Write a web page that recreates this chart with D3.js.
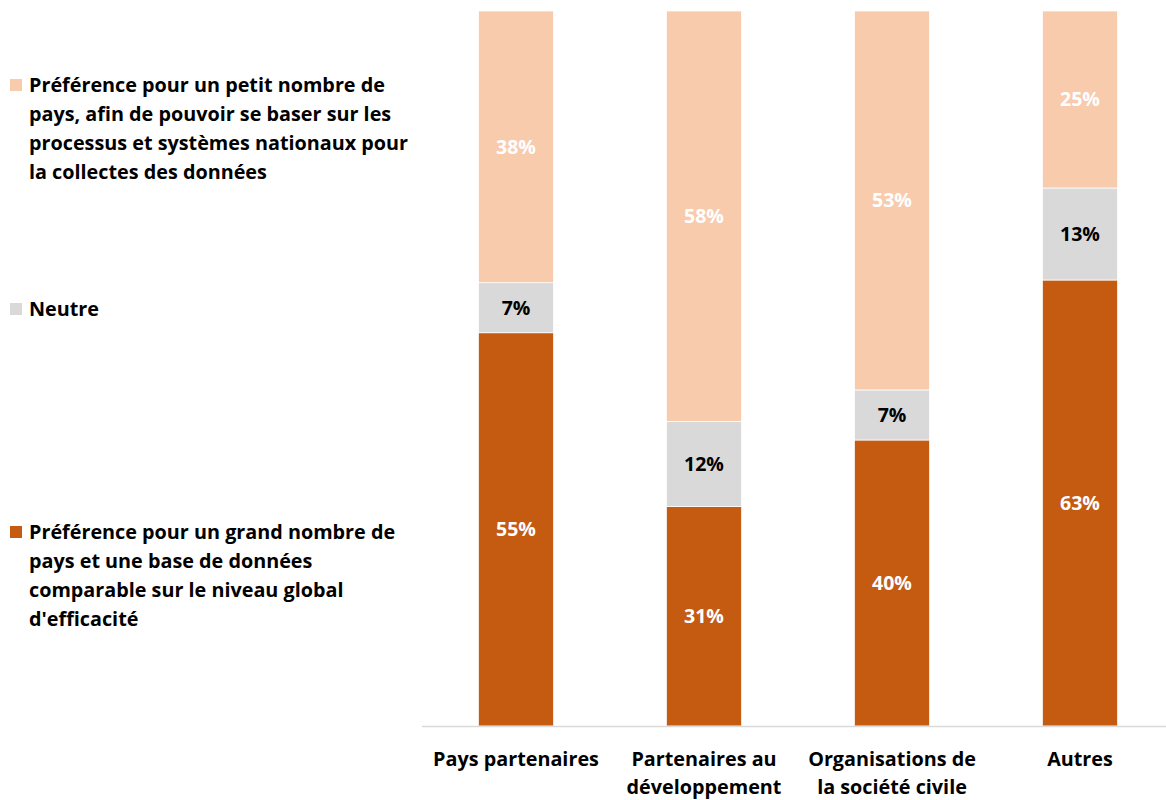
<!DOCTYPE html>
<html>
<head>
<meta charset="utf-8">
<script src="https://cdn.jsdelivr.net/npm/d3@7"></script>
<style>
  body { margin: 0; background: #fff; }
  svg { font-family: "Open Sans", Lato, sans-serif; font-weight: bold; }
</style>
</head>
<body>
<div id="chart"></div>
<script>
// categories (each label split on its lines)
const categories = ["Pays partenaires", "Partenaires au développement", "Organisations de la société civile", "Autres"];
const categoryLines = [["Pays partenaires"], ["Partenaires au", "développement"], ["Organisations de", "la société civile"], ["Autres"]];

// series values, in %
const grandNombre = [55, 31, 40, 63];
const neutre = [7, 12, 7, 13];
const petitNombre = [38, 58, 53, 25];

const seriesKeys = ["grand", "neutre", "petit"];
const seriesColors = ["#C55A11", "#D9D9D9", "#F8CBAD"];
const labelColors = ["#fff", "#000", "#fff"];

const legendLines = [
    ["Préférence pour un petit nombre de", "pays, afin de pouvoir se baser sur les", "processus et systèmes nationaux pour", "la collectes des données"],
    ["Neutre"],
    ["Préférence pour un grand nombre de", "pays et une base de données", "comparable sur le niveau global", "d'efficacité"]
];
const legendColors = ["#F8CBAD", "#D9D9D9", "#C55A11"];

const width = 1166, height = 800;

const rows = categories.map((c, i) => ({
    cat: c, grand: grandNombre[i], neutre: neutre[i], petit: petitNombre[i]
}));

// 100% stack, the bars of 101% are normalised like in the source
const stacked = d3.stack()
    .keys(seriesKeys)
    .offset(d3.stackOffsetExpand)(rows);

const x = d3.scaleBand()
    .domain(categories)
    .range([422, 1174])
    .paddingInner(0.6)
    .paddingOuter(0.3);

const y = d3.scaleLinear()
    .domain([0, 1])
    .range([726, 11]);

const svg = d3.select("#chart")
    .append("svg")
    .attr("width", width)
    .attr("height", height);

// bars
const layers = svg.selectAll("g.layer")
    .data(stacked)
    .enter()
    .append("g")
    .attr("class", "layer")
    .attr("fill", (d, i) => seriesColors[i]);

layers.selectAll("rect")
    .data(d => d)
    .enter()
    .append("rect")
    .attr("x", d => x(d.data.cat))
    .attr("width", x.bandwidth())
    .attr("y", d => y(d[1]))
    .attr("height", d => y(d[0]) - y(d[1]))
    .attr("stroke", "#fff")
    .attr("stroke-width", 0.75);

// value labels
layers.each(function(layer, li) {
    d3.select(this).selectAll("text")
        .data(layer)
        .enter()
        .append("text")
        .attr("x", d => x(d.data.cat) + x.bandwidth() / 2)
        .attr("y", d => (y(d[0]) + y(d[1])) / 2)
        .attr("dy", "0.35em")
        .attr("text-anchor", "middle")
        .attr("font-size", 19.5)
        .attr("fill", labelColors[li])
        .text(d => d.data[layer.key] + "%");
});

// bottom axis line
svg.append("line")
    .attr("x1", 422).attr("x2", width)
    .attr("y1", y(0) + 0.5).attr("y2", y(0) + 0.5)
    .attr("stroke", "#D9D9D9")
    .attr("stroke-width", 1.5);

// category labels
const catLabels = svg.selectAll("text.cat")
    .data(categories)
    .enter()
    .append("text")
    .attr("class", "cat")
    .attr("text-anchor", "middle")
    .attr("font-size", 19.8)
    .attr("fill", "#000")
    .attr("transform", d => "translate(" + (x(d) + x.bandwidth() / 2) + ",766)");

catLabels.selectAll("tspan")
    .data((d, i) => categoryLines[i])
    .enter()
    .append("tspan")
    .attr("x", 0)
    .attr("y", (d, i) => i * 28)
    .text(d => d);

// legend
const legendTop = [85, 309, 532];
const legend = svg.selectAll("g.legend")
    .data(legendLines)
    .enter()
    .append("g")
    .attr("class", "legend")
    .attr("transform", (d, i) => "translate(10," + legendTop[i] + ")");

legend.append("rect")
    .attr("x", 0).attr("y", -6)
    .attr("width", 12).attr("height", 12)
    .attr("fill", (d, i) => legendColors[i]);

legend.append("text")
    .attr("font-size", 19.8)
    .attr("fill", "#000")
    .selectAll("tspan")
    .data(d => d)
    .enter()
    .append("tspan")
    .attr("x", 19)
    .attr("y", (d, i) => i * 29)
    .attr("dy", "0.35em")
    .text(d => d);
</script>
</body>
</html>
